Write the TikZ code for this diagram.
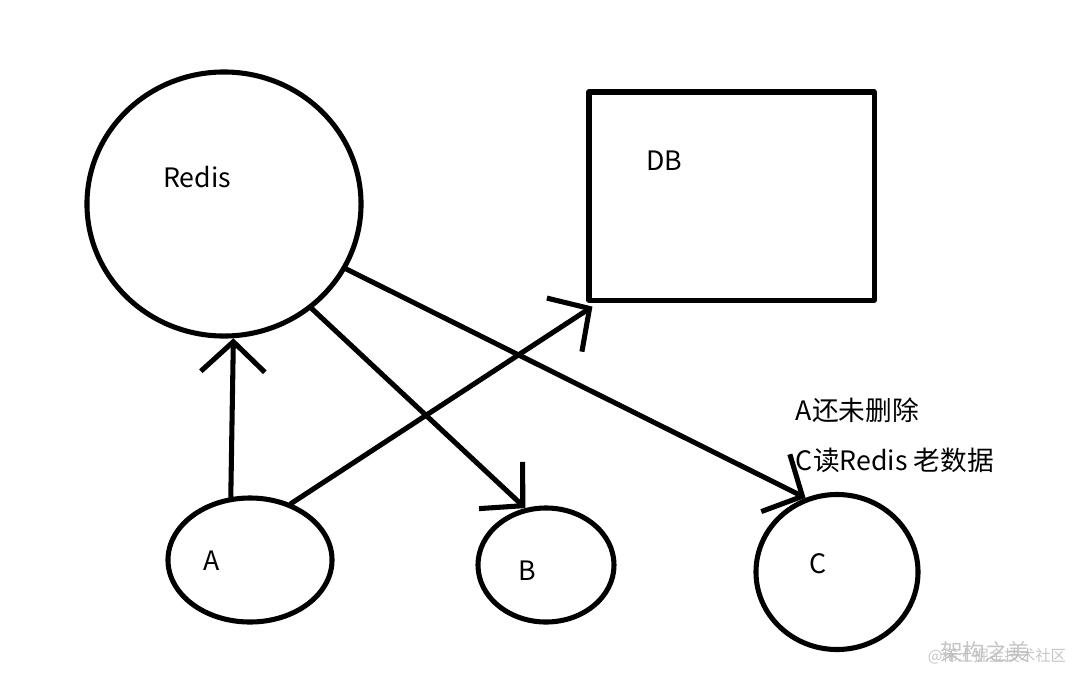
\documentclass[tikz,border=0pt]{standalone}
\usepackage{fontspec}
\usepackage{tikz}
\usetikzlibrary{arrows.meta,shapes.geometric}
\setmainfont{Noto Sans CJK SC}

\tikzset{
  hand/.style={line width=3.6pt, line cap=round, line join=round},
  blob/.style={ellipse, draw, hand, inner sep=0pt},
  barb/.style={-{Straight Barb[length=0.75cm, width=1.6cm, line width=3.6pt]}},
  txt/.style={font=\fontsize{19}{22}\selectfont},
  wmark/.style={font=\fontsize{#1}{#1}\selectfont, text=black!28, opacity=0.8}
}

\begin{document}
\begin{tikzpicture}[x=0.025cm, y=-0.025cm]
  \useasboundingbox (0,0) rectangle (1080,672);

  % nodes
  \node[blob, minimum width=6.85cm, minimum height=6.6cm] (redis) at (224,204) {};
  \node[draw, hand, minimum width=7.125cm, minimum height=5.2cm] (db) at (731.5,196) {};
  \node[blob, minimum width=4.1cm, minimum height=3.1cm] (a) at (250,560) {};
  \node[blob, minimum width=3.4cm, minimum height=2.85cm] (b) at (546,565) {};
  \node[blob, minimum width=4.05cm, minimum height=3.875cm] (c) at (837,572) {};

  \node[txt] (redistext) at (197,177) {Redis};
  \node[txt] (dbtext) at (664,161) {DB};
  \node[txt] (atext) at (212,561) {A};
  \node[txt] (btext) at (527,571) {B};
  \node[txt] (ctext) at (818,564) {C};

  \node[txt, anchor=west] (note1) at (791,410) {A还未删除};
  \node[txt, anchor=west] (note2) at (791,460) {C读Redis 老数据};

  % arrows
  \draw[hand, barb] (a.107) -- (redis.-86);
  \draw[hand, barb] (a.54) -- ([shift={(6,4)}]db.south west);
  \draw[hand, barb] (redis.-50) -- (b.110);
  \draw[hand, barb] (redis.-28) -- (c.113);

  % watermark
  \node[wmark=16] (wm1) at (985,652) {架构之美};
  \node[wmark=11] (wm2) at (997,656) {@稀土掘金技术社区};
\end{tikzpicture}
\end{document}
